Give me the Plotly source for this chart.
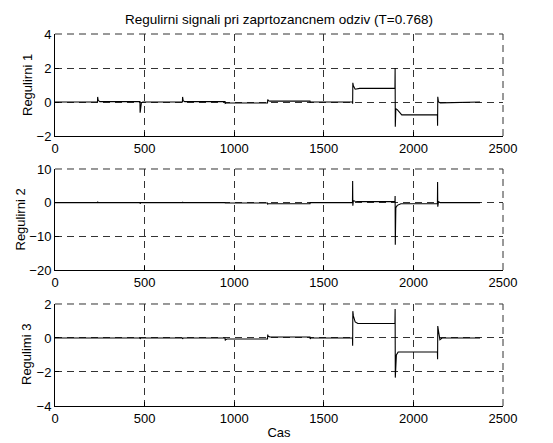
import plotly.graph_objects as go

# ---- data (breakpoints) ----
t1 = [0, 237, 238, 241, 250, 474, 475, 478, 482, 490, 711, 712, 715, 724, 949, 950, 955,
      1186, 1187, 1192, 1200, 1423, 1424, 1430, 1660, 1661, 1662, 1665, 1675, 1700,
      1897, 1898, 1899, 1902, 1910, 1935, 2134, 2135, 2136, 2140, 2150, 2372]
u1 = [0, 0, 0.3, 0.1, 0.02, 0.02, -0.63, -0.2, -0.05, 0, 0, 0.3, 0.08, 0.02, 0.02, -0.08, -0.06,
      -0.06, 0.15, 0.07, 0.05, 0.05, -0.02, 0, 0, -0.1, 1.13, 0.95, 0.75, 0.8,
      0.8, 2.0, -1.45, -0.4, -0.45, -0.76, -0.76, -1.4, 0.31, 0.0, -0.05, 0]

t2 = [0, 237, 238, 240, 474, 475, 478, 711, 712, 715, 949, 950, 955, 1186, 1187, 1190,
      1423, 1424, 1660, 1661, 1662, 1665, 1675, 1700, 1897, 1898, 1899, 1902, 1910, 1930,
      2134, 2135, 2136, 2140, 2150, 2372]
u2 = [0, 0, 0.3, 0, 0, -0.3, 0, 0, 0.2, 0, 0, -0.1, -0.1, -0.1, -0.4, -0.3,
      -0.3, 0, 0, 6.4, -0.9, 0.6, 0.4, 0.3, 0.3, 2.0, -12.5, -1.5, -0.8, -0.3,
      -0.3, 6.1, -1.2, 0.3, 0, 0]

t3 = [0, 474, 475, 478, 711, 712, 715, 949, 950, 952, 960, 1186, 1187, 1190, 1200,
      1423, 1424, 1428, 1440, 1660, 1661, 1662, 1665, 1675, 1690, 1897, 1898, 1899,
      1901, 1905, 1915, 2134, 2135, 2136, 2140, 2148, 2160, 2372]
u3 = [0, 0, -0.05, 0, 0, -0.05, 0, 0, -0.15, -0.1, -0.06, -0.06, 0.2, 0.1, 0.06,
      0.06, -0.05, 0, 0, 0, -0.45, 1.58, 1.3, 0.95, 0.85, 0.85, 1.7, -2.33,
      -1.5, -1.0, -0.82, -0.82, -1.25, 0.7, 0.4, -0.1, 0, 0]

x_ticks = [0, 500, 1000, 1500, 2000, 2500]
y_ticks = [[-2, 0, 2, 4], [-20, -10, 0, 10], [-4, -2, 0, 2]]
y_ranges = [[-2, 4], [-20, 10], [-4, 2]]
y_titles = ["Regulirni 1", "Regulirni 2", "Regulimi 3"]
title = "Regulirni signali pri zaprtozancnem odziv (T=0.768)"
x_title = "Cas"

series = [(t1, u1), (t2, u2), (t3, u3)]
domains = [[0.7258, 1.0], [0.3656, 0.6371], [0.0, 0.2742]]
ytitle_px = [27, 20, 27]   # horizontal offset of y-title centres (px from figure left)

GRID = "#333333"
DASH = "7px,5px"
L, R, T, B, W, H = 47, 50, 26, 37, 545, 435
PW = W - L - R

fig = go.Figure()
font = dict(family="Liberation Sans, Arial, sans-serif", size=13, color="black")
for i, (t, u) in enumerate(series):
    n = "" if i == 0 else str(i + 1)
    fig.add_trace(go.Scatter(x=t, y=u, mode="lines", line=dict(color="black", width=1.1),
                             xaxis="x" + n, yaxis="y" + n, showlegend=False,
                             hoverinfo="skip"))
    common = dict(showline=True, linecolor="black", linewidth=1, ticks="inside",
                  ticklen=4, tickcolor="black", showgrid=True, gridcolor=GRID,
                  griddash=DASH, gridwidth=1, zeroline=False, tickfont=font,
                  mirror=False, automargin=False)
    fig.layout["xaxis" + n] = dict(common, domain=[0, 1], range=[0, 2500],
                                   tickvals=x_ticks, anchor="y" + n,
                                   title=dict(text=x_title if i == 2 else "",
                                              font=dict(font, size=13), standoff=3))
    fig.layout["yaxis" + n] = dict(common, domain=domains[i], range=y_ranges[i],
                                   tickvals=y_ticks[i], anchor="x" + n)
    fig.add_annotation(text=y_titles[i], textangle=-90, showarrow=False,
                       xref="paper", yref="paper",
                       x=(ytitle_px[i] - 8 - L) / PW, xanchor="center",
                       y=sum(domains[i]) / 2, yanchor="middle",
                       font=dict(font, size=13))
    # dashed top and right box edges (grid lines at the range limits)
    fig.add_shape(type="line", xref="x" + n + " domain", yref="y" + n + " domain",
                  x0=0, x1=1, y0=1, y1=1, layer="below",
                  line=dict(color=GRID, width=1, dash=DASH))
    fig.add_shape(type="line", xref="x" + n + " domain", yref="y" + n + " domain",
                  x0=1, x1=1, y0=0, y1=1, layer="below",
                  line=dict(color=GRID, width=1, dash=DASH))

fig.update_layout(
    width=W, height=H,
    margin=dict(l=L, r=R, t=T, b=B, autoexpand=False),
    paper_bgcolor="white", plot_bgcolor="white",
    title=dict(text=title, x=0.5, xref="paper", y=1 - 11 / H, yref="container",
               yanchor="middle", font=dict(font, size=13.5)),
    font=font,
)
fig.write_html("out.html")
